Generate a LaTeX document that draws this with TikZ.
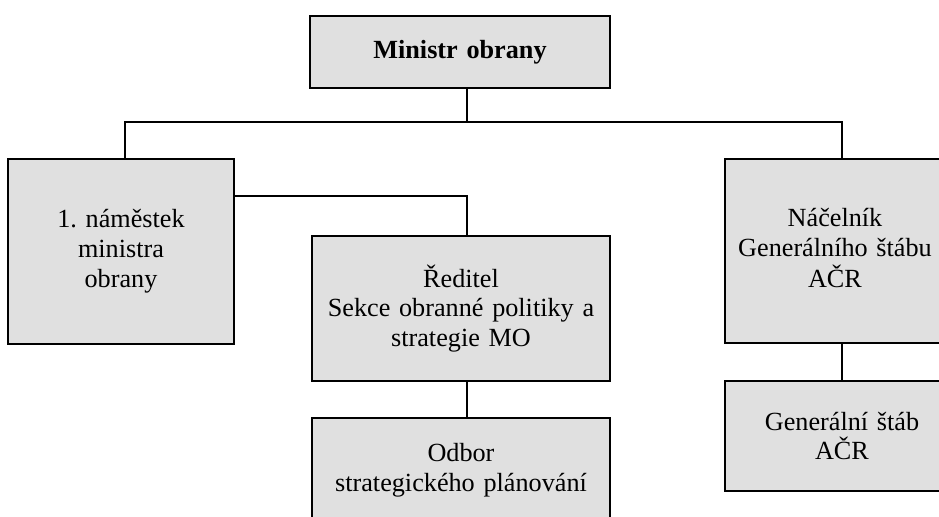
\documentclass[tikz,border=0pt]{standalone}
\usepackage{fontspec}
\setmainfont{Liberation Serif}
\definecolor{boxgray}{RGB}{224,224,224}
\begin{document}
\begin{tikzpicture}[x=0.5pt, y=-0.5pt,
    box/.style={draw, fill=boxgray, line width=1.3pt, inner sep=0pt, align=center,
                font=\fontsize{13.1}{14.9}\selectfont\frenchspacing},
    link/.style={line width=1.2pt}]
    \useasboundingbox (0,0) rectangle (939,517);
    \clip (0,0) rectangle (939,517);

    % Nodes
    \node[box, text width=150pt, minimum height=36pt] (min) at (460,52) {\textbf{Ministr obrany}};
    \node[box, text width=113pt, minimum height=92.5pt] (nam) at (121,251.5) {1. náměstek\\ministra\\obrany};
    \node[box, text width=117pt, minimum height=92pt] (nac) at (842,251)
        {\hspace*{-7pt}\begin{tabular}{@{}c@{}}Náčelník\\Generálního štábu\\AČR\end{tabular}};
    \node[box, text width=149pt, minimum height=72.5pt] (red) at (461,308.5) {Ředitel\\Sekce obranné politiky a\\strategie MO};
    \node[box, text width=117pt, minimum height=55pt] (gs) at (842,436) {Generální štáb\\AČR};
    \node[box, text width=149pt, minimum height=52pt] (odb) at (461,470) {Odbor\\strategického plánování};

    % Edges
    \draw[link] ([xshift=3.5pt]min.south) -- ++(0,33) -| ([xshift=2pt]nam.north);
    \draw[link] ([xshift=3.5pt]min.south) -- ++(0,33) -| (nac.north);
    \draw[link] ([yshift=27.75pt]nam.east) -| ([xshift=3pt]red.north);
    \draw[link] ([xshift=3pt]red.south) -- ([xshift=3pt]odb.north);
    \draw[link] (nac.south) -- (gs.north);
\end{tikzpicture}
\end{document}
